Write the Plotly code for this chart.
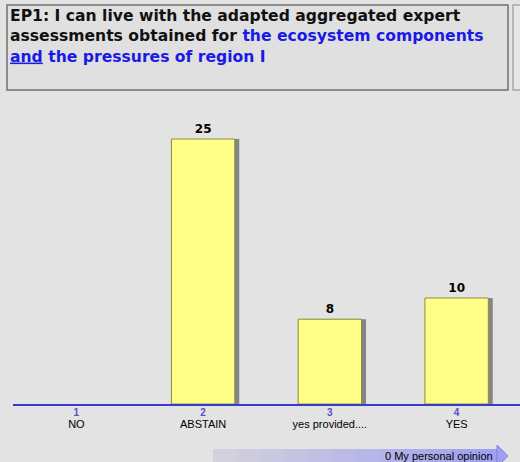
import plotly.graph_objects as go

# answer options and number of votes
options = ["1", "2", "3", "4"]
option_labels = ["NO", "ABSTAIN", "yes provided....", "YES"]
votes = [0, 25, 8, 10]
shown_votes = ["", "25", "8", "10"]

W, H = 520, 462


def px_x(v):
    return v / W


def px_y(v):
    return 1 - v / H


tick_text = [f"<b><span style='color:#5a4fc8;font-size:10px'>{n}</span></b><br>"
             f"<span style='font-size:11px'>{lab}</span>"
             for n, lab in zip(options, option_labels)]

positions = [1, 2, 3, 4]
fill = ["#ffff88" if v > 0 else "rgba(0,0,0,0)" for v in votes]
edge = ["#8c8c3c" if v > 0 else "rgba(0,0,0,0)" for v in votes]

fig = go.Figure()

# gray shadow bar behind each yellow bar, nudged to the right
fig.add_trace(go.Bar(
    x=[p + 0.035 for p in positions], y=votes, width=0.5,
    marker=dict(color="#858585", line=dict(width=0)),
    hoverinfo="skip",
))
fig.add_trace(go.Bar(
    x=positions, y=votes, width=0.5,
    marker=dict(color=fill, line=dict(color=edge, width=1)),
    text=shown_votes, textposition="outside", cliponaxis=False,
    textfont=dict(family="DejaVu Sans", size=12, color="#000000"),
    texttemplate="<b>%{text}</b>",
))

x_dom = [px_x(13), 1.0]
y_dom = [px_y(404), px_y(86)]

fig.update_layout(
    width=W, height=H,
    margin=dict(l=0, r=0, t=0, b=0),
    paper_bgcolor="#e3e3e3",
    plot_bgcolor="#e3e3e3",
    showlegend=False,
    barmode="overlay",
    xaxis=dict(
        domain=x_dom, range=[0.5, 4.5],
        tickvals=positions, ticktext=tick_text,
        tickfont=dict(family="Arial", size=8.8, color="#000000"),
        showgrid=False, zeroline=False,
        showline=True, linecolor="#3a3ad0", linewidth=1.5,
        ticks="", fixedrange=True,
    ),
    yaxis=dict(domain=y_dom, range=[0, 30], visible=False, fixedrange=True),
)

# title box and the edge of the neighbouring box
fig.add_shape(type="rect", xref="paper", yref="paper",
              x0=px_x(7), x1=px_x(508), y0=px_y(90), y1=px_y(5),
              fillcolor="#e0e0e0", line=dict(color="#707070", width=1.5))
fig.add_shape(type="rect", xref="paper", yref="paper",
              x0=px_x(513), x1=px_x(530), y0=px_y(90), y1=px_y(5),
              fillcolor="#e6e6e6", line=dict(color="#a8a8a8", width=1.5))

blue = "#1a1ae6"
title = ("EP1: I can live with the adapted aggregated expert<br>"
         f"assessments obtained for <span style='color:{blue}'>the ecosystem components</span><br>"
         f"<span style='color:{blue};text-decoration:underline'>and</span>"
         f"<span style='color:{blue}'> the pressures of region I</span>")
fig.add_annotation(xref="paper", yref="paper", x=px_x(8), y=px_y(5),
                   xanchor="left", yanchor="top", align="left",
                   text=f"<b>{title}</b>", showarrow=False,
                   font=dict(family="DejaVu Sans", size=15.6, color="#111111"))

# gradient arrow at the bottom
steps = 12
x_start, x_end = 213, 498
for i in range(steps):
    a = x_start + (x_end - x_start) * i / steps
    b = x_start + (x_end - x_start) * (i + 1) / steps
    t = i / (steps - 1)
    r = int(0xd2 + (0xa0 - 0xd2) * t)
    g = int(0xd2 + (0xa0 - 0xd2) * t)
    bl = int(0xde + (0xf0 - 0xde) * t)
    fig.add_shape(type="rect", xref="paper", yref="paper",
                  x0=px_x(a), x1=px_x(b + 0.5), y0=px_y(463), y1=px_y(449),
                  fillcolor=f"rgb({r},{g},{bl})", line=dict(width=0))
fig.add_shape(type="path", xref="paper", yref="paper",
              path=(f"M {px_x(497)} {px_y(445)} L {px_x(508)} {px_y(456)} "
                    f"L {px_x(497)} {px_y(467)} Z"),
              fillcolor="#a0a0f0", line=dict(color="#8080d8", width=1))
fig.add_annotation(xref="paper", yref="paper", x=px_x(495), y=px_y(456),
                   xanchor="right", yanchor="middle", showarrow=False,
                   text="0 My personal opinion",
                   font=dict(family="Arial", size=11, color="#000000"))

fig.write_html("out.html",
               config={"displayModeBar": False},
               post_script="document.body.style.margin='0';"
                           "document.body.style.overflow='hidden';")
